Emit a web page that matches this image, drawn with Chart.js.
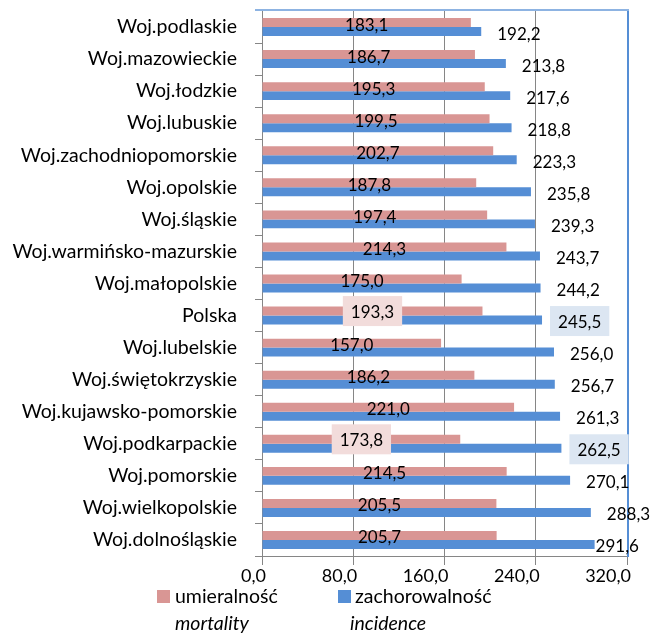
<!DOCTYPE html>
<html>
<head>
<meta charset="utf-8">
<script src="https://cdn.jsdelivr.net/npm/chart.js@4.4.1/dist/chart.umd.min.js"></script>
<style>
    body { margin: 0; background: #fff; }
    #wrap { position: relative; width: 651px; height: 634px; }
    #chart { position: absolute; left: 0; top: 0; }
    .leg { position: absolute; font-family: Lato, sans-serif; font-size: 19.5px; color: #000; line-height: 22px; white-space: nowrap; }
    .leg i { font-style: italic; }
    .sw { position: absolute; width: 13px; height: 13px; }
</style>
</head>
<body>
<div id="wrap">
    <canvas id="chart" width="651" height="634"></canvas>
    <span class="sw" style="left:157px;top:590px;background:#D99694"></span>
    <div class="leg" style="left:175px;top:585px">umieralność</div>
    <div class="leg" style="left:175px;top:612px"><i>mortality</i></div>
    <span class="sw" style="left:338px;top:590px;background:#558ED5"></span>
    <div class="leg" style="left:355px;top:585px">zachorowalność</div>
    <div class="leg" style="left:350px;top:612px"><i>incidence</i></div>
</div>
<script>
const regions = [
    'Woj.podlaskie', 'Woj.mazowieckie', 'Woj.łodzkie', 'Woj.lubuskie',
    'Woj.zachodniopomorskie', 'Woj.opolskie', 'Woj.śląskie', 'Woj.warmińsko-mazurskie',
    'Woj.małopolskie', 'Polska', 'Woj.lubelskie', 'Woj.świętokrzyskie',
    'Woj.kujawsko-pomorskie', 'Woj.podkarpackie', 'Woj.pomorskie', 'Woj.wielkopolskie',
    'Woj.dolnośląskie'
];
const mortality = [183.1, 186.7, 195.3, 199.5, 202.7, 187.8, 197.4, 214.3, 175.0, 193.3, 157.0, 186.2, 221.0, 173.8, 214.5, 205.5, 205.7];
const incidence = [192.2, 213.8, 217.6, 218.8, 223.3, 235.8, 239.3, 243.7, 244.2, 245.5, 256.0, 256.7, 261.3, 262.5, 270.1, 288.3, 291.6];
const xTicks = [0, 80, 160, 240, 320];
const highlighted = ['Polska', 'Woj.podkarpackie'];

const FONT = 'Lato, sans-serif';
const fmt = v => v.toFixed(1).replace('.', ',');

// labels: mortality centred in bar, incidence just past bar end
const valueLabels = {
    id: 'valueLabels',
    afterDatasetsDraw(chart) {
        const ctx = chart.ctx;
        ctx.save();
        ctx.font = '17px ' + FONT;
        ctx.textBaseline = 'middle';
        chart.data.datasets.forEach((ds, di) => {
            const meta = chart.getDatasetMeta(di);
            meta.data.forEach((bar, i) => {
                const text = fmt(ds.data[i]);
                const w = ctx.measureText(text).width;
                const boxed = highlighted.includes(regions[i]);
                let x, y = bar.y + 2.5;
                if (di === 0) {
                    x = (bar.x + bar.base) / 2 - w / 2;
                } else {
                    x = bar.x + 16;
                    if (i === regions.length - 1) x = bar.x + 1;
                }
                if (boxed) {
                    ctx.fillStyle = di === 0 ? '#F2DCDB' : '#DCE6F2';
                    const by = di === 0 ? bar.y : bar.y + 1;
                    ctx.fillRect(x - 8, by - 15, w + 16, 30);
                    y = by + 1;
                }
                ctx.fillStyle = '#000';
                ctx.fillText(text, x, y);
            });
        });
        ctx.restore();
    }
};

// blue frame: right edge under the labels, top edge drawn last
const plotFrame = {
    id: 'plotFrame',
    beforeDatasetsDraw(chart) {
        const {ctx, chartArea: a} = chart;
        ctx.save();
        ctx.fillStyle = '#558ED5';
        ctx.fillRect(Math.round(a.right), Math.round(a.top) - 2, 2, Math.round(a.bottom - a.top) + 3);
        ctx.restore();
    },
    afterDraw(chart) {
        const {ctx, chartArea: a} = chart;
        ctx.save();
        ctx.fillStyle = '#8DB3E2';
        ctx.fillRect(Math.round(a.left) - 7, Math.round(a.top) - 2, Math.round(a.right - a.left) + 9, 2);
        ctx.restore();
    }
};

new Chart(document.getElementById('chart'), {
    type: 'bar',
    data: {
        labels: regions,
        datasets: [
            { label: 'umieralność', data: mortality, backgroundColor: '#D99694', borderWidth: 0 },
            { label: 'zachorowalność', data: incidence, backgroundColor: '#558ED5', borderWidth: 0 }
        ]
    },
    options: {
        indexAxis: 'y',
        responsive: false,
        animation: false,
        devicePixelRatio: 1,
        categoryPercentage: 0.56,
        barPercentage: 1.0,
        layout: { padding: { top: 11, right: 24, left: 0, bottom: 48 } },
        plugins: {
            legend: { display: false },
            tooltip: { enabled: false }
        },
        scales: {
            x: {
                min: 0,
                max: 320,
                afterBuildTicks: scale => { scale.ticks = xTicks.map(v => ({ value: v })); },
                afterFit: scale => {
                    scale.height = 30;
                    scale.paddingLeft = 0;
                    scale.paddingRight = 0;
                },
                ticks: {
                    callback: v => fmt(v),
                    font: { family: FONT, size: 18 },
                    color: '#000',
                    padding: 0,
                    align: 'end',
                    labelOffset: 4
                },
                grid: { color: '#868686', lineWidth: 1, tickLength: 9 },
                border: { color: '#868686' }
            },
            y: {
                afterFit: scale => {
                    scale.width = 262;
                    scale.paddingTop = 0;
                    scale.paddingBottom = 0;
                },
                ticks: {
                    font: { family: FONT, size: 19.5 },
                    color: '#000',
                    padding: 18
                },
                grid: { drawOnChartArea: false, color: '#868686', tickLength: 7, offset: true },
                border: { color: '#868686' }
            }
        }
    },
    plugins: [valueLabels, plotFrame]
});
</script>
</body>
</html>
